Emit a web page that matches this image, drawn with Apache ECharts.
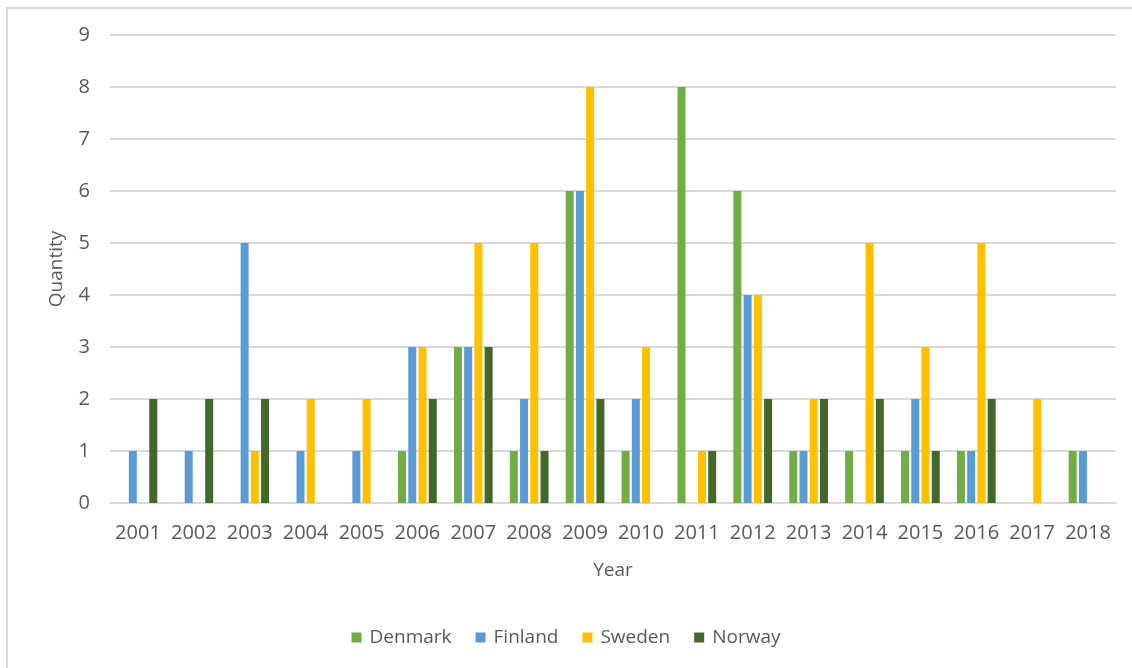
<!DOCTYPE html>
<html>
<head>
<meta charset="utf-8">
<script src="https://cdn.jsdelivr.net/npm/echarts@6/dist/echarts.min.js"></script>
<style>
  html, body { margin: 0; padding: 0; background: #fff; }
  #chart { width: 1132px; height: 668px; }
</style>
</head>
<body>
<div id="chart"></div>
<script>
// Yearly quantities per country
const years = ['2001','2002','2003','2004','2005','2006','2007','2008','2009','2010','2011','2012','2013','2014','2015','2016','2017','2018'];
const denmark = [0, 0, 0, 0, 0, 1, 3, 1, 6, 1, 8, 6, 1, 1, 1, 1, 0, 1];
const finland = [1, 1, 5, 1, 1, 3, 3, 2, 6, 2, 0, 4, 1, 0, 2, 1, 0, 1];
const sweden  = [0, 0, 1, 2, 2, 3, 5, 5, 8, 3, 1, 4, 2, 5, 3, 5, 2, 0];
const norway  = [2, 2, 2, 0, 0, 2, 3, 1, 2, 0, 1, 2, 2, 2, 1, 2, 0, 0];
const yTicks = [0, 1, 2, 3, 4, 5, 6, 7, 8, 9];

const FONT = '"Open Sans", "Liberation Sans", sans-serif';
const TEXT = '#595959';

function bars(name, data, color) {
  return {
    name: name,
    type: 'bar',
    data: data,
    barWidth: 8,
    barGap: '28%',
    itemStyle: { color: color },
    emphasis: { disabled: true }
  };
}

const chart = echarts.init(document.getElementById('chart'), null, { renderer: 'canvas' });
chart.setOption({
  animation: false,
  backgroundColor: '#ffffff',
  textStyle: { fontFamily: FONT },
  graphic: [{
    type: 'rect',
    shape: { x: 7, y: 8, width: 1200, height: 800 },
    style: { fill: 'none', stroke: '#d9d9d9', lineWidth: 2 },
    silent: true
  }],
  grid: { left: 110, right: 16, top: 35, bottom: 165 },
  legend: {
    bottom: 16,
    left: 'center',
    itemWidth: 10,
    itemHeight: 10,
    itemGap: 24,
    icon: 'rect',
    textStyle: { color: TEXT, fontSize: 19, fontFamily: FONT, padding: [0, 0, 0, 3] },
    data: ['Denmark', 'Finland', 'Sweden', 'Norway']
  },
  xAxis: {
    type: 'category',
    data: years,
    name: 'Year',
    nameLocation: 'middle',
    nameGap: 58,
    nameTextStyle: { color: TEXT, fontSize: 19, fontFamily: FONT },
    axisLine: { lineStyle: { color: '#d9d9d9', width: 2 } },
    axisTick: { show: false },
    axisLabel: { color: TEXT, fontSize: 20, margin: 20, interval: 0, hideOverlap: false, fontFamily: FONT }
  },
  yAxis: {
    type: 'value',
    min: yTicks[0],
    max: yTicks[yTicks.length - 1],
    interval: 1,
    name: 'Quantity',
    nameLocation: 'middle',
    nameGap: 44,
    nameTextStyle: { color: TEXT, fontSize: 19, fontFamily: FONT },
    axisLine: { show: false },
    axisTick: { show: false },
    axisLabel: { color: TEXT, fontSize: 20, margin: 20, fontFamily: FONT },
    splitLine: { lineStyle: { color: '#d9d9d9', width: 2 } }
  },
  series: [
    bars('Denmark', denmark, '#70ad47'),
    bars('Finland', finland, '#5b9bd5'),
    bars('Sweden', sweden, '#ffc000'),
    bars('Norway', norway, '#43682b')
  ]
});
</script>
</body>
</html>
